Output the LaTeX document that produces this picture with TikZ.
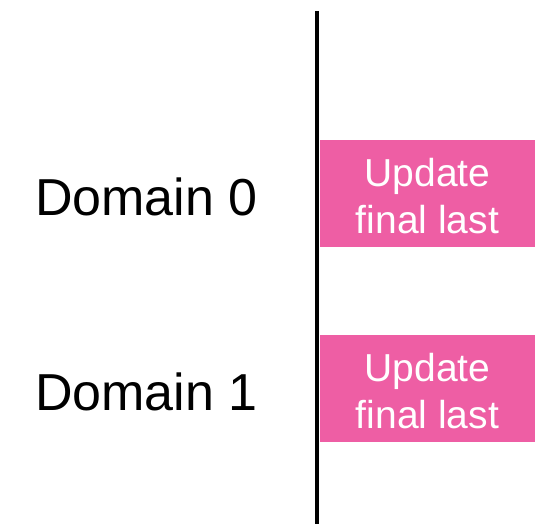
\documentclass[tikz,border=0pt]{standalone}
\usepackage{fontspec}
\setmainfont{Liberation Sans}
\definecolor{boxpink}{RGB}{238,94,164}
\begin{document}
\begin{tikzpicture}[x=1pt,y=1pt,
  box/.style={fill=boxpink, draw=none, minimum width=215pt, minimum height=107pt, inner sep=0pt,
    label={[text=white, font=\fontsize{39}{47}\selectfont, align=center, inner sep=0pt, yshift=-3pt]center:Update\\final last}},
  dom/.style={font=\fontsize{52}{62}\selectfont, inner sep=0pt, anchor=base west}]
\useasboundingbox (0,0) rectangle (535,524);
\node[box] (u0) at (427.5,330.5) {};
\node[box] (u1) at (427.5,135.5) {};
\node[dom] (d0) at (35,308) {Domain 0};
\node[dom] (d1) at (35,113) {Domain 1};
\coordinate (top) at (317,513);
\coordinate (bot) at (317,0);
\draw[line width=4pt] (top) -- (bot);
\end{tikzpicture}
\end{document}
